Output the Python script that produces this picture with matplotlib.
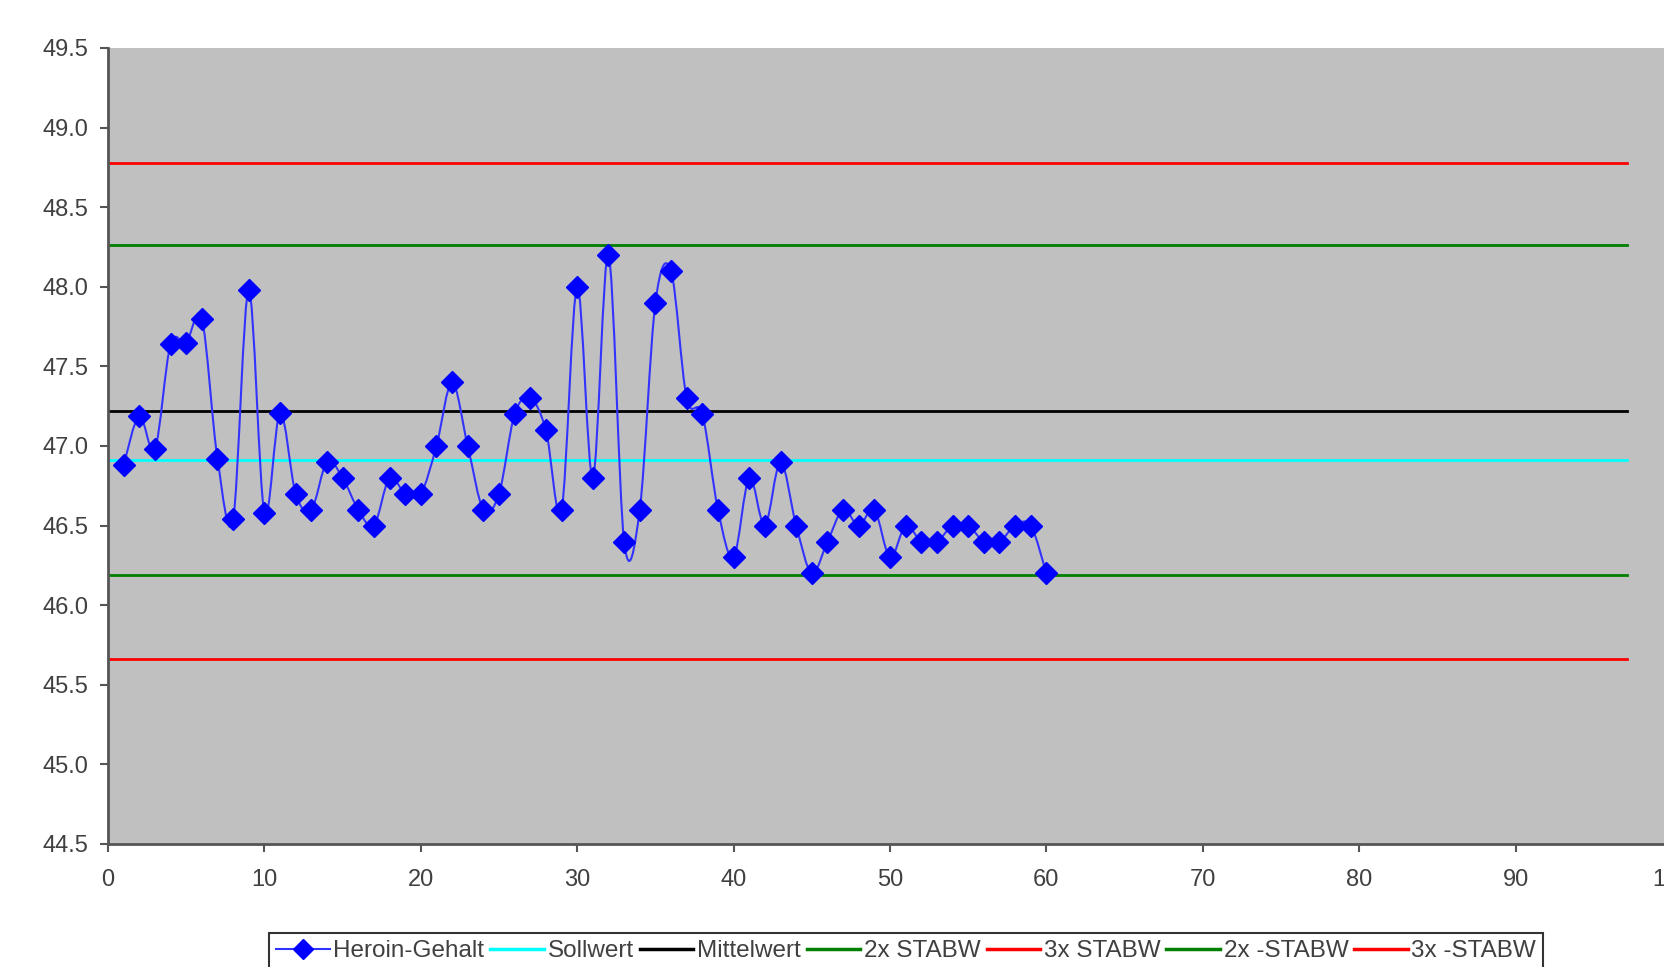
import matplotlib
matplotlib.use("Agg")
import matplotlib.pyplot as plt
import numpy as np
from matplotlib.path import Path
from matplotlib.patches import PathPatch
from matplotlib.lines import Line2D

plt.rcParams['font.family'] = ['Liberation Sans', 'DejaVu Sans']

# Data
sample = list(range(1, 61))
heroin = [46.88, 47.19, 46.98, 47.64, 47.65, 47.80, 46.92, 46.54, 47.98, 46.58,
          47.21, 46.70, 46.60, 46.90, 46.80, 46.60, 46.50, 46.80, 46.70, 46.70,
          47.00, 47.40, 47.00, 46.60, 46.70, 47.20, 47.30, 47.10, 46.60, 48.00,
          46.80, 48.20, 46.40, 46.60, 47.90, 48.10, 47.30, 47.20, 46.60, 46.30,
          46.80, 46.50, 46.90, 46.50, 46.20, 46.40, 46.60, 46.50, 46.60, 46.30,
          46.50, 46.40, 46.40, 46.50, 46.50, 46.40, 46.40, 46.50, 46.50, 46.20]
line_x = [0, 97.1]
sollwert = 46.91
mittelwert = 47.22
plus2 = 48.26
plus3 = 48.78
minus2 = 46.19
minus3 = 45.66

ref_labels = ["Sollwert", "Mittelwert", "2x STABW", "3x STABW", "2x -STABW", "3x -STABW"]
ref_values = [sollwert, mittelwert, plus2, plus3, minus2, minus3]
ref_colors = ["#00FFFF", "#000000", "#008000", "#FF0000", "#008000", "#FF0000"]

W, H = 1665, 967
fig = plt.figure(figsize=(W / 100, H / 100), dpi=100)
ax = fig.add_axes([108 / W, 1 - 844 / H, (1672 - 108) / W, (844 - 48) / H])
ax.set_facecolor("#C0C0C0")
ax.set_xlim(0, 100)
ax.set_ylim(44.5, 49.5)
ax.set_xticks(np.arange(0, 101, 10))
ax.set_yticks(np.arange(44.5, 49.51, 0.5))
ax.yaxis.set_major_formatter(matplotlib.ticker.FormatStrFormatter('%.1f'))

for s in ['top', 'right']:
    ax.spines[s].set_visible(False)
for s in ['left', 'bottom']:
    ax.spines[s].set_color("#555555")
    ax.spines[s].set_linewidth(2)
ax.tick_params(direction='out', length=6, width=1.5, color="#555555",
               labelsize=17, labelcolor="#404040")
ax.tick_params(axis='x', pad=12)
ax.tick_params(axis='y', pad=8)

# reference lines
for lab, v, c in zip(ref_labels, ref_values, ref_colors):
    ax.plot(line_x, [v, v], color=c, lw=2, zorder=2)

# smoothed series (Bezier smoothing like Excel smoothed line)
x = np.array(sample, float)
y = np.array(heroin, float)
verts = [(x[0], y[0])]
codes = [Path.MOVETO]
n = len(x)
for i in range(n - 1):
    p0 = (x[i - 1], y[i - 1]) if i > 0 else (x[i], y[i])
    p1 = (x[i], y[i])
    p2 = (x[i + 1], y[i + 1])
    p3 = (x[i + 2], y[i + 2]) if i + 2 < n else (x[i + 1], y[i + 1])
    c1 = (p1[0] + (p2[0] - p0[0]) / 6, p1[1] + (p2[1] - p0[1]) / 6)
    c2 = (p2[0] - (p3[0] - p1[0]) / 6, p2[1] - (p3[1] - p1[1]) / 6)
    verts += [c1, c2, p2]
    codes += [Path.CURVE4] * 3
patch = PathPatch(Path(verts, codes), facecolor='none', edgecolor='#3333FF',
                  lw=1.5, zorder=3)
ax.add_patch(patch)
ax.plot(sample, heroin, linestyle='none', marker='D', markersize=11.5,
        color='#0000FF', zorder=4)

handles = [Line2D([], [], color='#3333FF', lw=1.5, marker='D', markersize=10,
                  markerfacecolor='#0000FF', markeredgecolor='#0000FF')]
for c in ref_colors:
    handles.append(Line2D([], [], color=c, lw=2.5))
labels = ["Heroin-Gehalt"] + ref_labels

leg = fig.legend(handles, labels, loc='upper left',
                 bbox_to_anchor=(269 / W, 1 - 933 / H), ncol=7,
                 fontsize=17.5, frameon=True, fancybox=False,
                 handlelength=2.2, handletextpad=0.15, columnspacing=0.25,
                 borderpad=0.3, borderaxespad=0)
leg.get_frame().set_edgecolor('#000000')
leg.get_frame().set_linewidth(1.5)
for t in leg.get_texts():
    t.set_color('#404040')

fig.savefig("out.png", dpi=100)
